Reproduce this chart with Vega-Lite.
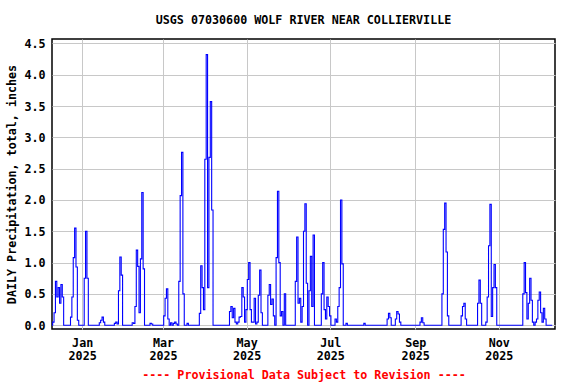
{
"$schema": "https://vega.github.io/schema/vega-lite/v6.json",
"width": 503, "height": 290,
"autosize": "none",
"padding": {"left": 52, "top": 39, "right": 21, "bottom": 55},
"background": "white",
"config": {
 "font": "DejaVu Sans Mono",
 "view": {"stroke": "black", "strokeWidth": 1.5},
 "axis": {"labelFont": "DejaVu Sans Mono", "labelFontWeight": "bold", "labelFontSize": 11.7, "labelColor": "black", "titleFont": "DejaVu Sans Mono", "titleFontWeight": "bold", "titleFontSize": 11.7, "titleColor": "black", "gridColor": "#c8c8c8", "gridWidth": 1, "gridOpacity": 1, "domain": false, "ticks": false}
},
"title": {"text": "USGS 07030600 WOLF RIVER NEAR COLLIERVILLE", "font": "DejaVu Sans Mono", "fontSize": 11.7, "fontWeight": "bold", "color": "black", "anchor": "middle", "offset": 12},
"data": {"values": [
{"d":"2024-12-10","v":0},{"d":"2024-12-11","v":0.05},{"d":"2024-12-12","v":0.2},{"d":"2024-12-13","v":0.7},{"d":"2024-12-14","v":0.45},{"d":"2024-12-15","v":0.6},{"d":"2024-12-16","v":0.35},{"d":"2024-12-17","v":0.65},{"d":"2024-12-18","v":0.45},{"d":"2024-12-19","v":0},{"d":"2024-12-20","v":0},{"d":"2024-12-21","v":0},{"d":"2024-12-22","v":0},{"d":"2024-12-23","v":0},{"d":"2024-12-24","v":0.13},{"d":"2024-12-25","v":0.45},{"d":"2024-12-26","v":1.08},{"d":"2024-12-27","v":1.55},{"d":"2024-12-28","v":0.93},{"d":"2024-12-29","v":0.08},{"d":"2024-12-30","v":0},{"d":"2024-12-31","v":0},
{"d":"2025-01-01","v":0},{"d":"2025-01-02","v":0},{"d":"2025-01-03","v":0.75},{"d":"2025-01-04","v":1.5},{"d":"2025-01-05","v":0.75},{"d":"2025-01-06","v":0},{"d":"2025-01-07","v":0},{"d":"2025-01-08","v":0},{"d":"2025-01-09","v":0},{"d":"2025-01-10","v":0},{"d":"2025-01-11","v":0},{"d":"2025-01-12","v":0},{"d":"2025-01-13","v":0},{"d":"2025-01-14","v":0.04},{"d":"2025-01-15","v":0.08},{"d":"2025-01-16","v":0.13},{"d":"2025-01-17","v":0.05},{"d":"2025-01-18","v":0},{"d":"2025-01-19","v":0},{"d":"2025-01-20","v":0},{"d":"2025-01-21","v":0},{"d":"2025-01-22","v":0},{"d":"2025-01-23","v":0},{"d":"2025-01-24","v":0},{"d":"2025-01-25","v":0.03},{"d":"2025-01-26","v":0.05},{"d":"2025-01-27","v":0.02},{"d":"2025-01-28","v":0.55},{"d":"2025-01-29","v":1.09},{"d":"2025-01-30","v":0.8},{"d":"2025-01-31","v":0},
{"d":"2025-02-01","v":0},{"d":"2025-02-02","v":0},{"d":"2025-02-03","v":0},{"d":"2025-02-04","v":0},{"d":"2025-02-05","v":0},{"d":"2025-02-06","v":0},{"d":"2025-02-07","v":0.04},{"d":"2025-02-08","v":0.03},{"d":"2025-02-09","v":0.3},{"d":"2025-02-10","v":1.2},{"d":"2025-02-11","v":0.94},{"d":"2025-02-12","v":0.2},{"d":"2025-02-13","v":1.06},{"d":"2025-02-14","v":2.12},{"d":"2025-02-15","v":0.9},{"d":"2025-02-16","v":0},{"d":"2025-02-17","v":0},{"d":"2025-02-18","v":0},{"d":"2025-02-19","v":0},{"d":"2025-02-20","v":0.03},{"d":"2025-02-21","v":0.02},{"d":"2025-02-22","v":0},{"d":"2025-02-23","v":0},{"d":"2025-02-24","v":0},{"d":"2025-02-25","v":0},{"d":"2025-02-26","v":0},{"d":"2025-02-27","v":0},{"d":"2025-02-28","v":0},
{"d":"2025-03-01","v":0},{"d":"2025-03-02","v":0.15},{"d":"2025-03-03","v":0.43},{"d":"2025-03-04","v":0.58},{"d":"2025-03-05","v":0.1},{"d":"2025-03-06","v":0},{"d":"2025-03-07","v":0.04},{"d":"2025-03-08","v":0},{"d":"2025-03-09","v":0.03},{"d":"2025-03-10","v":0.05},{"d":"2025-03-11","v":0.02},{"d":"2025-03-12","v":0},{"d":"2025-03-13","v":0.7},{"d":"2025-03-14","v":2.07},{"d":"2025-03-15","v":2.76},{"d":"2025-03-16","v":0.5},{"d":"2025-03-17","v":0},{"d":"2025-03-18","v":0},{"d":"2025-03-19","v":0.03},{"d":"2025-03-20","v":0},{"d":"2025-03-21","v":0},{"d":"2025-03-22","v":0},{"d":"2025-03-23","v":0},{"d":"2025-03-24","v":0},{"d":"2025-03-25","v":0},{"d":"2025-03-26","v":0},{"d":"2025-03-27","v":0},{"d":"2025-03-28","v":0.19},{"d":"2025-03-29","v":0.95},{"d":"2025-03-30","v":0.6},{"d":"2025-03-31","v":0.25},
{"d":"2025-04-01","v":2.65},{"d":"2025-04-02","v":4.32},{"d":"2025-04-03","v":0.6},{"d":"2025-04-04","v":2.68},{"d":"2025-04-05","v":3.57},{"d":"2025-04-06","v":1.84},{"d":"2025-04-07","v":0},{"d":"2025-04-08","v":0},{"d":"2025-04-09","v":0},{"d":"2025-04-10","v":0},{"d":"2025-04-11","v":0},{"d":"2025-04-12","v":0},{"d":"2025-04-13","v":0},{"d":"2025-04-14","v":0},{"d":"2025-04-15","v":0},{"d":"2025-04-16","v":0},{"d":"2025-04-17","v":0},{"d":"2025-04-18","v":0},{"d":"2025-04-19","v":0.22},{"d":"2025-04-20","v":0.3},{"d":"2025-04-21","v":0.12},{"d":"2025-04-22","v":0.27},{"d":"2025-04-23","v":0.05},{"d":"2025-04-24","v":0.02},{"d":"2025-04-25","v":0.05},{"d":"2025-04-26","v":0.13},{"d":"2025-04-27","v":0.14},{"d":"2025-04-28","v":0.6},{"d":"2025-04-29","v":0.45},{"d":"2025-04-30","v":0.05},
{"d":"2025-05-01","v":0.25},{"d":"2025-05-02","v":0.73},{"d":"2025-05-03","v":1.0},{"d":"2025-05-04","v":0.25},{"d":"2025-05-05","v":0.05},{"d":"2025-05-06","v":0.05},{"d":"2025-05-07","v":0.43},{"d":"2025-05-08","v":0.02},{"d":"2025-05-09","v":0.05},{"d":"2025-05-10","v":0.48},{"d":"2025-05-11","v":0.88},{"d":"2025-05-12","v":0.2},{"d":"2025-05-13","v":0},{"d":"2025-05-14","v":0},{"d":"2025-05-15","v":0},{"d":"2025-05-16","v":0},{"d":"2025-05-17","v":0.48},{"d":"2025-05-18","v":0.65},{"d":"2025-05-19","v":0.33},{"d":"2025-05-20","v":0.42},{"d":"2025-05-21","v":0.15},{"d":"2025-05-22","v":0},{"d":"2025-05-23","v":1.08},{"d":"2025-05-24","v":2.14},{"d":"2025-05-25","v":1.0},{"d":"2025-05-26","v":0.15},{"d":"2025-05-27","v":0.22},{"d":"2025-05-28","v":0},{"d":"2025-05-29","v":0.5},{"d":"2025-05-30","v":0},{"d":"2025-05-31","v":0},
{"d":"2025-06-01","v":0},{"d":"2025-06-02","v":0},{"d":"2025-06-03","v":0},{"d":"2025-06-04","v":0},{"d":"2025-06-05","v":0},{"d":"2025-06-06","v":0.7},{"d":"2025-06-07","v":1.41},{"d":"2025-06-08","v":0.35},{"d":"2025-06-09","v":0.43},{"d":"2025-06-10","v":0.05},{"d":"2025-06-11","v":0.3},{"d":"2025-06-12","v":1.5},{"d":"2025-06-13","v":1.94},{"d":"2025-06-14","v":0.67},{"d":"2025-06-15","v":0},{"d":"2025-06-16","v":0.55},{"d":"2025-06-17","v":1.1},{"d":"2025-06-18","v":0.3},{"d":"2025-06-19","v":1.44},{"d":"2025-06-20","v":0},{"d":"2025-06-21","v":0},{"d":"2025-06-22","v":0},{"d":"2025-06-23","v":0},{"d":"2025-06-24","v":0},{"d":"2025-06-25","v":0.5},{"d":"2025-06-26","v":1.0},{"d":"2025-06-27","v":0.25},{"d":"2025-06-28","v":0.1},{"d":"2025-06-29","v":0.45},{"d":"2025-06-30","v":0.3},
{"d":"2025-07-01","v":0.15},{"d":"2025-07-02","v":0},{"d":"2025-07-03","v":0},{"d":"2025-07-04","v":0},{"d":"2025-07-05","v":0.1},{"d":"2025-07-06","v":0.05},{"d":"2025-07-07","v":0.3},{"d":"2025-07-08","v":0.6},{"d":"2025-07-09","v":2.0},{"d":"2025-07-10","v":0.98},{"d":"2025-07-11","v":0},{"d":"2025-07-12","v":0},{"d":"2025-07-13","v":0.03},{"d":"2025-07-14","v":0},{"d":"2025-07-15","v":0},{"d":"2025-07-16","v":0},{"d":"2025-07-17","v":0},{"d":"2025-07-18","v":0},{"d":"2025-07-19","v":0},{"d":"2025-07-20","v":0},{"d":"2025-07-21","v":0},{"d":"2025-07-22","v":0},{"d":"2025-07-23","v":0},{"d":"2025-07-24","v":0},{"d":"2025-07-25","v":0},{"d":"2025-07-26","v":0.03},{"d":"2025-07-27","v":0},{"d":"2025-07-28","v":0},{"d":"2025-07-29","v":0},{"d":"2025-07-30","v":0},{"d":"2025-07-31","v":0},
{"d":"2025-08-01","v":0},{"d":"2025-08-02","v":0},{"d":"2025-08-03","v":0},{"d":"2025-08-04","v":0},{"d":"2025-08-05","v":0},{"d":"2025-08-06","v":0},{"d":"2025-08-07","v":0},{"d":"2025-08-08","v":0},{"d":"2025-08-09","v":0},{"d":"2025-08-10","v":0},{"d":"2025-08-11","v":0},{"d":"2025-08-12","v":0.1},{"d":"2025-08-13","v":0.19},{"d":"2025-08-14","v":0.12},{"d":"2025-08-15","v":0},{"d":"2025-08-16","v":0},{"d":"2025-08-17","v":0},{"d":"2025-08-18","v":0.1},{"d":"2025-08-19","v":0.22},{"d":"2025-08-20","v":0.18},{"d":"2025-08-21","v":0.05},{"d":"2025-08-22","v":0},{"d":"2025-08-23","v":0},{"d":"2025-08-24","v":0},{"d":"2025-08-25","v":0},{"d":"2025-08-26","v":0},{"d":"2025-08-27","v":0},{"d":"2025-08-28","v":0},{"d":"2025-08-29","v":0},{"d":"2025-08-30","v":0},{"d":"2025-08-31","v":0},
{"d":"2025-09-01","v":0},{"d":"2025-09-02","v":0},{"d":"2025-09-03","v":0},{"d":"2025-09-04","v":0},{"d":"2025-09-05","v":0.05},{"d":"2025-09-06","v":0.12},{"d":"2025-09-07","v":0.04},{"d":"2025-09-08","v":0},{"d":"2025-09-09","v":0},{"d":"2025-09-10","v":0},{"d":"2025-09-11","v":0},{"d":"2025-09-12","v":0},{"d":"2025-09-13","v":0},{"d":"2025-09-14","v":0},{"d":"2025-09-15","v":0},{"d":"2025-09-16","v":0},{"d":"2025-09-17","v":0},{"d":"2025-09-18","v":0},{"d":"2025-09-19","v":0},{"d":"2025-09-20","v":0},{"d":"2025-09-21","v":0.5},{"d":"2025-09-22","v":1.53},{"d":"2025-09-23","v":1.95},{"d":"2025-09-24","v":1.17},{"d":"2025-09-25","v":0.15},{"d":"2025-09-26","v":0},{"d":"2025-09-27","v":0},{"d":"2025-09-28","v":0},{"d":"2025-09-29","v":0},{"d":"2025-09-30","v":0},
{"d":"2025-10-01","v":0},{"d":"2025-10-02","v":0},{"d":"2025-10-03","v":0},{"d":"2025-10-04","v":0},{"d":"2025-10-05","v":0.15},{"d":"2025-10-06","v":0.3},{"d":"2025-10-07","v":0.35},{"d":"2025-10-08","v":0.1},{"d":"2025-10-09","v":0},{"d":"2025-10-10","v":0},{"d":"2025-10-11","v":0},{"d":"2025-10-12","v":0},{"d":"2025-10-13","v":0},{"d":"2025-10-14","v":0},{"d":"2025-10-15","v":0},{"d":"2025-10-16","v":0},{"d":"2025-10-17","v":0.35},{"d":"2025-10-18","v":0.72},{"d":"2025-10-19","v":0.35},{"d":"2025-10-20","v":0},{"d":"2025-10-21","v":0},{"d":"2025-10-22","v":0},{"d":"2025-10-23","v":0.05},{"d":"2025-10-24","v":0.45},{"d":"2025-10-25","v":1.27},{"d":"2025-10-26","v":1.93},{"d":"2025-10-27","v":0.14},{"d":"2025-10-28","v":0.6},{"d":"2025-10-29","v":0.97},{"d":"2025-10-30","v":0.6},{"d":"2025-10-31","v":0},
{"d":"2025-11-01","v":0},{"d":"2025-11-02","v":0},{"d":"2025-11-03","v":0},{"d":"2025-11-04","v":0},{"d":"2025-11-05","v":0},{"d":"2025-11-06","v":0},{"d":"2025-11-07","v":0},{"d":"2025-11-08","v":0},{"d":"2025-11-09","v":0},{"d":"2025-11-10","v":0},{"d":"2025-11-11","v":0},{"d":"2025-11-12","v":0},{"d":"2025-11-13","v":0},{"d":"2025-11-14","v":0},{"d":"2025-11-15","v":0},{"d":"2025-11-16","v":0},{"d":"2025-11-17","v":0},{"d":"2025-11-18","v":0},{"d":"2025-11-19","v":0.5},{"d":"2025-11-20","v":1.0},{"d":"2025-11-21","v":0.52},{"d":"2025-11-22","v":0.1},{"d":"2025-11-23","v":0.35},{"d":"2025-11-24","v":0.75},{"d":"2025-11-25","v":0.4},{"d":"2025-11-26","v":0.05},{"d":"2025-11-27","v":0},{"d":"2025-11-28","v":0.05},{"d":"2025-11-29","v":0.1},{"d":"2025-11-30","v":0.4},
{"d":"2025-12-01","v":0.53},{"d":"2025-12-02","v":0.2},{"d":"2025-12-03","v":0.05},{"d":"2025-12-04","v":0.27},{"d":"2025-12-05","v":0.1},{"d":"2025-12-06","v":0},{"d":"2025-12-07","v":0},{"d":"2025-12-08","v":0},{"d":"2025-12-09","v":0},{"d":"2025-12-10","v":0}
]},
"mark": {"type": "line", "color": "#0000ff", "strokeWidth": 1.1, "interpolate": "step", "clip": true},
"encoding": {
 "x": {"field": "d", "type": "temporal",
  "scale": {"type": "utc", "domain": [{"year": 2024, "month": 12, "date": 10, "utc": true}, {"year": 2025, "month": 12, "date": 12, "utc": true}]},
  "axis": {"values": [{"year": 2025, "month": 1, "date": 1, "utc": true}, {"year": 2025, "month": 3, "date": 1, "utc": true}, {"year": 2025, "month": 5, "date": 1, "utc": true}, {"year": 2025, "month": 7, "date": 1, "utc": true}, {"year": 2025, "month": 9, "date": 1, "utc": true}, {"year": 2025, "month": 11, "date": 1, "utc": true}],
   "labelExpr": "[utcFormat(datum.value, '%b'), utcFormat(datum.value, '%Y')]",
   "labelLineHeight": 13, "labelPadding": 8,
   "title": "---- Provisional Data Subject to Revision ----", "titleColor": "red", "titlePadding": 8}},
 "y": {"field": "v", "type": "quantitative",
  "scale": {"domain": [-0.06, 4.57], "nice": false, "zero": false},
  "axis": {"values": [0, 0.5, 1, 1.5, 2, 2.5, 3, 3.5, 4, 4.5], "format": ".1f", "labelPadding": 7,
   "title": "DAILY Precipitation, total, inches", "titlePadding": 6}}
}
}
